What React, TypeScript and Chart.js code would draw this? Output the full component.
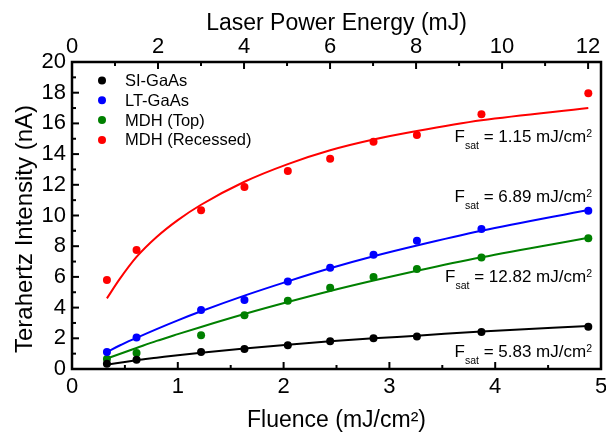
import React, { useEffect, useRef } from "react";
import { Chart, registerables } from "chart.js";

Chart.register(...registerables);

const FONT = "'Liberation Sans', Arial, Helvetica, sans-serif";

// Fluence (mJ/cm^2) of each measurement
const fluence = [0.33, 0.61, 1.22, 1.63, 2.04, 2.44, 2.85, 3.26, 3.87, 4.88];

// Measured terahertz intensity (nA)
const siGaAs = [0.35, 0.6, 1.1, 1.3, 1.55, 1.8, 2.0, 2.12, 2.41, 2.76];
const ltGaAs = [1.1, 2.05, 3.85, 4.5, 5.7, 6.6, 7.45, 8.36, 9.12, 10.31];
const mdhTop = [0.65, 1.05, 2.2, 3.5, 4.45, 5.3, 6.0, 6.51, 7.27, 8.51];
const mdhRecessed = [5.8, 7.75, 10.35, 11.85, 12.9, 13.7, 14.8, 15.24, 16.59, 17.96];

// Fitted saturation curves at these fluences
const fitFluence = [0.33, 0.45, 0.61, 0.8, 1.0, 1.22, 1.63, 2.04, 2.44, 2.85, 3.26, 3.87, 4.88];
const siGaAsFit = [0.3, 0.4, 0.57, 0.73, 0.9, 1.06, 1.33, 1.58, 1.8, 2.0, 2.17, 2.45, 2.8];
const ltGaAsFit = [1.1, 1.53, 2.03, 2.6, 3.17, 3.76, 4.78, 5.71, 6.56, 7.34, 8.04, 9.0, 10.36];
const mdhTopFit = [0.68, 0.98, 1.37, 1.83, 2.27, 2.74, 3.58, 4.36, 5.08, 5.76, 6.4, 7.28, 8.55];
const mdhRecessedFit = [4.6, 5.85, 7.3, 8.6, 9.7, 10.7, 12.2, 13.35, 14.25, 14.95, 15.5, 16.2, 17.0];

const seriesLabels = ["SI-GaAs", "LT-GaAs", "MDH (Top)", "MDH (Recessed)"];
const seriesColors = ["#000000", "#0000ff", "#008000", "#ff0000"];

// Saturation fluence labels (mJ/cm^2) and the intensity level of their baselines
const fsatValues = ["5.83", "6.89", "12.82", "1.15"];
const fsatLevels = [0.8, 10.9, 5.69, 14.81];

// Tick labels
const fluenceTicks = [0, 1, 2, 3, 4, 5];
const energyTicks = [0, 2, 4, 6, 8, 10, 12];
const intensityTicks = [0, 2, 4, 6, 8, 10, 12, 14, 16, 18, 20];

const measured = [siGaAs, ltGaAs, mdhTop, mdhRecessed];
const fitted = [siGaAsFit, ltGaAsFit, mdhTopFit, mdhRecessedFit];

const toPoints = (xs: number[], ys: number[]) => xs.map((x, i) => ({ x, y: ys[i] }));

const decorPlugin = {
  id: "decor",
  afterDatasetsDraw(chart: any) {
    const { ctx, chartArea: a, scales } = chart;
    ctx.save();
    const line = (x1: number, y1: number, x2: number, y2: number) => {
      ctx.beginPath();
      ctx.moveTo(x1, y1);
      ctx.lineTo(x2, y2);
      ctx.stroke();
    };
    ctx.strokeStyle = "#000";
    ctx.lineWidth = 2;
    const MAJ = 7;
    const MIN = 4;
    const hTicks = (scale: any, edge: number, dir: number) => {
      const vals = scale.ticks.map((t: any) => t.value);
      vals.forEach((v: number, i: number) => {
        const p = scale.getPixelForValue(v);
        line(p, edge, p, edge + dir * MAJ);
        if (i < vals.length - 1) {
          const m = scale.getPixelForValue((v + vals[i + 1]) / 2);
          line(m, edge, m, edge + dir * MIN);
        }
      });
    };
    hTicks(scales.x, a.bottom, -1);
    hTicks(scales.x2, a.top, 1);
    const yv = scales.y.ticks.map((t: any) => t.value);
    yv.forEach((v: number, i: number) => {
      const p = scales.y.getPixelForValue(v);
      line(a.left, p, a.left + MAJ, p);
      if (i < yv.length - 1) {
        const m = scales.y.getPixelForValue((v + yv[i + 1]) / 2);
        line(a.left, m, a.left + MIN, m);
      }
    });
    ctx.lineWidth = 2.5;
    ctx.strokeRect(a.left, a.top, a.right - a.left, a.bottom - a.top);

    // legend
    ctx.textAlign = "left";
    ctx.textBaseline = "middle";
    ctx.font = `16.5px ${FONT}`;
    seriesLabels.forEach((lab, i) => {
      const cy = a.top + 18.5 + i * 19.8;
      ctx.fillStyle = seriesColors[i];
      ctx.beginPath();
      ctx.arc(a.left + 30, cy, 4, 0, Math.PI * 2);
      ctx.fill();
      ctx.fillStyle = "#000";
      ctx.fillText(lab, a.left + 53, cy + 1);
    });

    // Fsat annotations
    ctx.textBaseline = "alphabetic";
    ctx.fillStyle = "#000";
    const mainFont = `17px ${FONT}`;
    const smallFont = `10.5px ${FONT}`;
    fsatValues.forEach((val, i) => {
      const base = scales.y.getPixelForValue(fsatLevels[i]);
      const rest = ` = ${val} mJ/cm`;
      ctx.font = mainFont;
      const wF = ctx.measureText("F").width;
      const wRest = ctx.measureText(rest).width;
      ctx.font = smallFont;
      const wSat = ctx.measureText("sat").width;
      const w2 = ctx.measureText("2").width;
      let x = a.right - 9 - (wF + wSat + wRest + w2);
      ctx.font = mainFont;
      ctx.fillText("F", x, base);
      x += wF;
      ctx.font = smallFont;
      ctx.fillText("sat", x, base + 7);
      x += wSat;
      ctx.font = mainFont;
      ctx.fillText(rest, x, base);
      x += wRest;
      ctx.font = smallFont;
      ctx.fillText("2", x, base - 5);
    });

    // y-axis title
    ctx.font = `24px ${FONT}`;
    ctx.textAlign = "center";
    ctx.textBaseline = "middle";
    ctx.translate(25, 229);
    ctx.rotate(-Math.PI / 2);
    ctx.fillText("Terahertz Intensity (nA)", 0, 0);
    ctx.restore();
  },
};

export default function App() {
  const ref = useRef<HTMLCanvasElement | null>(null);

  useEffect(() => {
    document.body.style.margin = "0";
    if (!ref.current) return;

    const datasets: any[] = [];
    measured.forEach((ys, i) => {
      datasets.push({
        type: "line",
        label: seriesLabels[i],
        data: toPoints(fluence, ys),
        showLine: false,
        pointRadius: 4,
        pointHoverRadius: 4,
        pointBackgroundColor: seriesColors[i],
        pointBorderColor: seriesColors[i],
        pointBorderWidth: 0,
        borderColor: seriesColors[i],
        backgroundColor: seriesColors[i],
        order: 0,
      });
    });
    fitted.forEach((ys, i) => {
      datasets.push({
        type: "line",
        label: seriesLabels[i] + " fit",
        data: toPoints(fitFluence, ys),
        showLine: true,
        pointRadius: 0,
        borderWidth: 2,
        borderColor: seriesColors[i],
        cubicInterpolationMode: "monotone",
        fill: false,
        order: 1,
      });
    });

    const tickFont = { family: FONT, size: 22 };
    const titleFont = { family: FONT, size: 23 };

    const chart = new Chart(ref.current, {
      type: "line",
      data: { datasets },
      options: {
        animation: false,
        responsive: false,
        devicePixelRatio: 1,
        layout: { padding: { left: 0, right: 5, top: 0, bottom: 0 } },
        plugins: { legend: { display: false }, tooltip: { enabled: false } },
        scales: {
          x: {
            type: "linear",
            position: "bottom",
            min: 0,
            max: 5,
            grid: { display: false, drawTicks: false },
            border: { display: false },
            afterBuildTicks: (s: any) => {
              s.ticks = fluenceTicks.map((v) => ({ value: v }));
            },
            ticks: { font: tickFont, color: "#000", padding: 5, maxRotation: 0, autoSkip: false },
            title: {
              display: true,
              text: "Fluence (mJ/cm²)",
              font: titleFont,
              color: "#000",
              padding: { top: 0, bottom: 3 },
            },
            afterFit: (s: any) => {
              s.height = 68;
              s.paddingLeft = 0;
              s.paddingRight = 0;
            },
          },
          x2: {
            type: "linear",
            position: "top",
            min: 0,
            max: 12.3,
            grid: { display: false, drawTicks: false },
            border: { display: false },
            afterBuildTicks: (s: any) => {
              s.ticks = energyTicks.map((v) => ({ value: v }));
            },
            ticks: { font: tickFont, color: "#000", padding: 2, maxRotation: 0, autoSkip: false },
            title: {
              display: true,
              text: "Laser Power Energy (mJ)",
              font: titleFont,
              color: "#000",
              padding: { top: 10, bottom: 0 },
            },
            afterFit: (s: any) => {
              s.height = 62;
              s.paddingLeft = 0;
              s.paddingRight = 0;
            },
          },
          y: {
            type: "linear",
            position: "left",
            min: 0,
            max: 20,
            grid: { display: false, drawTicks: false },
            border: { display: false },
            afterBuildTicks: (s: any) => {
              s.ticks = intensityTicks.map((v) => ({ value: v }));
            },
            ticks: { font: tickFont, color: "#000", padding: 6, autoSkip: false },
            afterFit: (s: any) => {
              s.width = 72;
              s.paddingTop = 0;
              s.paddingBottom = 0;
            },
          },
        },
      } as any,
      plugins: [decorPlugin],
    });

    return () => chart.destroy();
  }, []);

  return (
    <div style={{ width: 606, height: 437 }}>
      <canvas ref={ref} width={606} height={437} />
    </div>
  );
}
